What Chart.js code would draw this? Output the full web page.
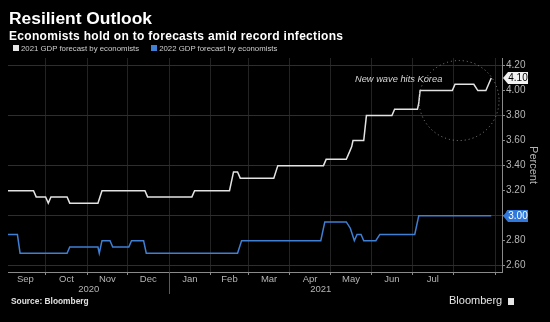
<!DOCTYPE html>
<html>
<head>
<meta charset="utf-8">
<script src="https://cdn.jsdelivr.net/npm/chart.js@4.4.1/dist/chart.umd.min.js"></script>
<style>
  body { margin: 0; background: #000; width: 550px; height: 322px; overflow: hidden; position: relative; font-family: "Liberation Sans", Arial, sans-serif; }
  #chart { position: absolute; left: 0; top: 0; }
  .head { position: absolute; left: 9px; color: #fff; font-weight: bold; line-height: 1; white-space: nowrap; }
  #title { top: 10px; font-size: 17.4px; }
  #subtitle { top: 29.5px; font-size: 12px; letter-spacing: 0.3px; }
  #legend { position: absolute; left: 13px; top: 44.5px; font-size: 7.8px; color: #cfcfcf; line-height: 1; white-space: nowrap; }
  #legend span.sw { display: inline-block; width: 6px; height: 6px; margin-right: 2px; vertical-align: 0; }
  #legend span.item { margin-right: 12px; }
  #source { position: absolute; left: 11px; top: 297px; font-size: 8.4px; font-weight: bold; color: #e0e0e0; line-height: 1; }
  #brand { position: absolute; left: 449px; top: 294.5px; font-size: 11px; color: #e6e6e6; line-height: 1; }
  #brand i { display: inline-block; width: 6px; height: 7px; background: #e6e6e6; margin-left: 6px; vertical-align: -1px; }
</style>
</head>
<body>
<canvas id="chart" width="550" height="322"></canvas>
<div id="title" class="head">Resilient Outlook</div>
<div id="subtitle" class="head">Economists hold on to forecasts amid record infections</div>
<div id="legend"><span class="item"><span class="sw" style="background:#e6e6e6"></span>2021 GDP forecast by economists</span><span class="item"><span class="sw" style="background:#3f7fd4"></span>2022 GDP forecast by economists</span></div>
<div id="source">Source: Bloomberg</div>
<div id="brand">Bloomberg<i></i></div>
<script>
// 2021 GDP forecast (percent)
const dates2021 = ['2020-09-03','2020-09-22','2020-09-24','2020-10-01','2020-10-03','2020-10-05','2020-10-17','2020-10-19',
  '2020-11-09','2020-11-12','2020-12-14','2020-12-16','2021-01-18','2021-01-20','2021-02-15','2021-02-18','2021-02-21',
  '2021-02-23','2021-03-20','2021-03-23','2021-04-26','2021-04-28','2021-05-13','2021-05-15','2021-05-17','2021-05-18',
  '2021-05-26','2021-05-28','2021-06-16','2021-06-18','2021-07-05','2021-07-06','2021-07-07','2021-07-31','2021-08-02',
  '2021-08-16','2021-08-19','2021-08-25','2021-08-29'];
const gdp2021 = [3.20,3.20,3.15,3.15,3.10,3.15,3.15,3.10,3.10,3.20,3.20,3.15,3.15,3.20,3.20,3.35,3.35,3.30,3.30,3.40,
  3.40,3.45,3.45,3.50,3.55,3.60,3.60,3.80,3.80,3.85,3.85,3.90,4.00,4.00,4.05,4.05,4.00,4.00,4.10];

// 2022 GDP forecast (percent)
const dates2022 = ['2020-09-03','2020-09-10','2020-09-12','2020-10-17','2020-10-19','2020-11-09','2020-11-10','2020-11-12',
  '2020-11-18','2020-11-20','2020-12-02','2020-12-04','2020-12-13','2020-12-15','2021-02-21','2021-02-24','2021-04-24',
  '2021-04-27','2021-05-13','2021-05-16','2021-05-19','2021-05-21','2021-05-24','2021-05-26','2021-06-04','2021-06-07',
  '2021-07-03','2021-07-06','2021-08-29'];
const gdp2022 = [2.85,2.85,2.70,2.70,2.75,2.75,2.70,2.80,2.80,2.75,2.75,2.80,2.80,2.70,2.70,2.80,2.80,2.95,2.95,2.90,
  2.80,2.85,2.85,2.80,2.80,2.85,2.85,3.00,3.00];

const monthLabels = ['Sep','Oct','Nov','Dec','Jan','Feb','Mar','Apr','May','Jun','Jul'];
const yearLabels = ['2020','2021'];
const yTickLabels = ['2.60','2.80','3.00','3.20','3.40','3.60','3.80','4.00','4.20'];
const note = 'New wave hits Korea';

const FONT = '"Liberation Sans", Arial, sans-serif';
const ORIGIN = Date.UTC(2020, 8, 1);
const dayOf = s => { const [y, m, d] = s.split('-').map(Number); return (Date.UTC(y, m - 1, d) - ORIGIN) / 86400000; };
const toPoints = (ds, vs) => ds.map((d, i) => ({ x: dayOf(d), y: vs[i] }));

const X_MIN = 2, X_MAX = 370;

// month boundaries carry the grid, mid-month ticks carry the names
const xTicks = [];
for (let i = 0; i <= monthLabels.length + 1; i++) {
  const start = (Date.UTC(2020, 8 + i, 1) - ORIGIN) / 86400000;
  const next = (Date.UTC(2020, 9 + i, 1) - ORIGIN) / 86400000;
  if (start > X_MIN && start < X_MAX) xTicks.push({ value: start, start: true, label: '' });
  if (i < monthLabels.length) xTicks.push({ value: (start + next) / 2, start: false, label: monthLabels[i] });
}
xTicks.sort((a, b) => a.value - b.value);

const yTicks = [];
yTickLabels.forEach((t, i) => {
  const v = parseFloat(t);
  yTicks.push({ value: v, label: t, grid: i % 2 === 0 });
  if (i < yTickLabels.length - 1) yTicks.push({ value: v + 0.1, label: '', grid: false });
});

const extras = {
  id: 'extras',
  afterDraw(chart) {
    const { ctx, chartArea: a, scales: { x, y } } = chart;
    ctx.save();

    // year divider and year names under the month row
    const jan = Math.round(x.getPixelForValue(dayOf('2021-01-01'))) + 0.5;
    ctx.strokeStyle = '#5a5a5a';
    ctx.lineWidth = 1;
    ctx.beginPath();
    ctx.moveTo(jan, a.bottom);
    ctx.lineTo(jan, a.bottom + 22);
    ctx.stroke();
    ctx.fillStyle = '#b5b5b5';
    ctx.font = '9.5px ' + FONT;
    ctx.textAlign = 'center';
    ctx.textBaseline = 'middle';
    ctx.fillText(yearLabels[0], (a.left + jan) / 2, a.bottom + 17);
    ctx.fillText(yearLabels[1], x.getPixelForValue(dayOf('2021-04-24')), a.bottom + 17);

    // dotted ring around the latest readings
    const cx = x.getPixelForValue(dayOf('2021-08-05'));
    const cy = y.getPixelForValue(3.92);
    ctx.strokeStyle = '#8a8a8a';
    ctx.setLineDash([1, 3]);
    ctx.beginPath();
    ctx.arc(cx, cy, 40, 0, Math.PI * 2);
    ctx.stroke();
    ctx.setLineDash([]);

    ctx.fillStyle = '#d8d8d8';
    ctx.font = 'italic 9.3px ' + FONT;
    ctx.fillText(note, x.getPixelForValue(dayOf('2021-06-21')), y.getPixelForValue(4.085));

    // last-value tags on the right axis
    const tag = (v, fill, color) => {
      const py = Math.round(y.getPixelForValue(v));
      const x0 = a.right + 1;
      ctx.beginPath();
      ctx.moveTo(x0, py);
      ctx.lineTo(x0 + 5, py - 6);
      ctx.lineTo(x0 + 25, py - 6);
      ctx.lineTo(x0 + 25, py + 6);
      ctx.lineTo(x0 + 5, py + 6);
      ctx.closePath();
      ctx.fillStyle = fill;
      ctx.fill();
      ctx.fillStyle = color;
      ctx.font = '10px ' + FONT;
      ctx.fillText(v.toFixed(2), x0 + 15, py + 0.5);
    };
    tag(gdp2021[gdp2021.length - 1], '#f2f2f2', '#000');
    tag(gdp2022[gdp2022.length - 1], '#2f78dc', '#fff');
    ctx.restore();
  }
};

new Chart(document.getElementById('chart'), {
  type: 'line',
  data: {
    datasets: [
      { label: '2021 GDP forecast by economists', data: toPoints(dates2021, gdp2021), borderColor: '#e3e3e3', borderWidth: 1.5 },
      { label: '2022 GDP forecast by economists', data: toPoints(dates2022, gdp2022), borderColor: '#3f7fd4', borderWidth: 1.5 }
    ]
  },
  options: {
    responsive: false,
    animation: false,
    layout: { padding: { left: 8, top: 58, right: 0, bottom: 0 } },
    elements: { point: { radius: 0 }, line: { tension: 0 } },
    plugins: { legend: { display: false }, tooltip: { enabled: false } },
    scales: {
      x: {
        type: 'linear',
        min: X_MIN,
        max: X_MAX,
        afterBuildTicks: s => { s.ticks = xTicks.map(t => ({ value: t.value })); },
        afterFit: s => { s.height = 50; },
        grid: {
          color: c => (xTicks[c.index] && xTicks[c.index].start ? '#232323' : 'rgba(0,0,0,0)'),
          tickColor: c => (xTicks[c.index] && xTicks[c.index].start ? '#8a8a8a' : 'rgba(0,0,0,0)'),
          tickLength: 3
        },
        border: { color: '#8a8a8a' },
        ticks: {
          autoSkip: false,
          maxRotation: 0,
          padding: -1,
          color: '#b5b5b5',
          font: { family: FONT, size: 9.5 },
          callback: (v, i) => (xTicks[i] ? xTicks[i].label : '')
        }
      },
      y: {
        position: 'right',
        min: 2.55,
        max: 4.26,
        afterBuildTicks: s => { s.ticks = yTicks.map(t => ({ value: t.value })); },
        afterFit: s => { s.width = 48; },
        grid: {
          color: c => (yTicks[c.index] && yTicks[c.index].grid ? '#2e2e2e' : 'rgba(0,0,0,0)'),
          tickColor: '#8a8a8a',
          tickLength: 3
        },
        border: { color: '#8a8a8a' },
        ticks: {
          padding: 1,
          color: '#b5b5b5',
          font: { family: FONT, size: 10 },
          callback: (v, i) => (yTicks[i] ? yTicks[i].label : '')
        },
        title: {
          display: true,
          text: 'Percent',
          color: '#b5b5b5',
          font: { family: FONT, size: 11 },
          padding: { top: 10, bottom: 0 }
        }
      }
    }
  },
  plugins: [extras]
});
</script>
</body>
</html>
